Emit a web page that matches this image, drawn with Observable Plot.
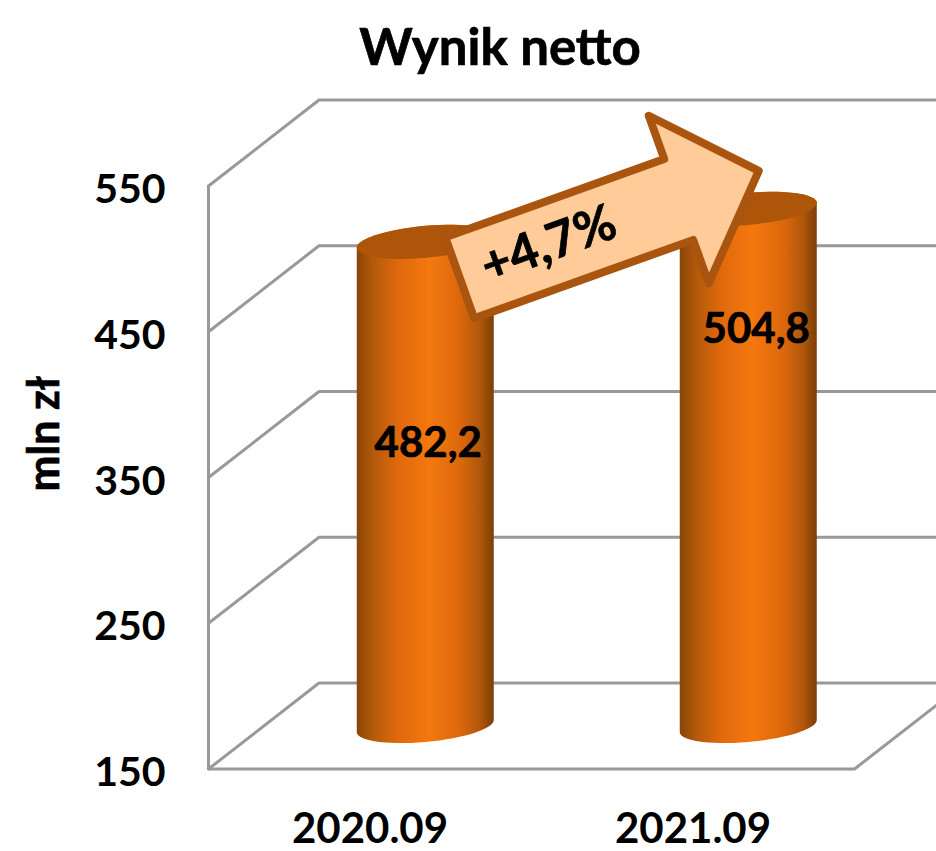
<!DOCTYPE html>
<html lang="pl">
<head>
<meta charset="utf-8">
<script src="https://cdn.jsdelivr.net/npm/d3@7"></script>
<script src="https://cdn.jsdelivr.net/npm/@observablehq/plot@0.6"></script>
<style>
  html, body { margin: 0; padding: 0; background: #fff; overflow: hidden; }
  #wrap { position: relative; width: 936px; height: 851px; }
  #title { position: absolute; left: 200px; width: 600px; top: 16px; text-align: center;
           font: bold 51px Lato, sans-serif; color: #000; line-height: 60px;
           -webkit-text-stroke: 0.7px #000; }
</style>
</head>
<body>
<div id="wrap"><div id="title">Wynik netto</div><div id="chart"></div></div>
<script>
const titleText = "Wynik netto";
const unitLabel = "mln zł";
const categories = ["2020.09", "2021.09"];
const values = [482.2, 504.8];
const valueLabels = ["482,2", "504,8"];
const yTicks = [150, 250, 350, 450, 550];
const changeLabel = "+4,7%";
document.getElementById("title").textContent = titleText;

const W = 936, H = 851, mL = 208, mR = 82, mT = 185.5, mB = 82.5;
const pxSlot = (W - mL - mR) / 2, pxVal = (H - mT - mB) / 400;
const depthX = 110.5 / pxSlot, depthY = 86 / pxVal;   // oblique projection of the back wall
const P = (slot, v, d = 0) => ({x: slot + d * depthX, y: v + d * depthY});
const off = (p, dx, dy) => ({x: p.x + dx / pxSlot, y: p.y - dy / pxVal});

const grey = "#999999", gw = 3;
const wallLines = yTicks.map(v => [P(-0.5, v, 0), P(-0.5, v, 1), P(2.2, v, 1)]);
const frame = [P(-0.5, 550, 0), P(-0.5, 150, 0), P(1.5, 150, 0), P(1.5, 150, 1)];

// cylinder geometry (tilted ellipse)
const rx = 68.5, tilt = 6, ry = 16;
const ang = d3.range(0, 61).map(i => i / 60 * Math.PI * 2);
const ell = (c, t) => off(c, rx * Math.cos(t), -tilt * Math.cos(t) + ry * Math.sin(t));
const tops = values.map((v, i) => P(i, v, 0.5));
const bottoms = values.map((v, i) => P(i, 150, 0.5));
const lowerArc = ang.filter(t => t <= Math.PI + 1e-6);
const upperArc = ang.filter(t => t >= Math.PI - 1e-6);
const bodies = values.map((v, i) => [
  ...lowerArc.map(t => ell(bottoms[i], t)),
  ...upperArc.map(t => ell(tops[i], t))
]);
const caps = values.map((v, i) => ang.map(t => ell(tops[i], t)));

// arrow anchored on the two bar tops
const tail = off(tops[0], 34.5, 36), tip = off(tops[1], 10.5, -38);
const toPx = p => [p.x * pxSlot, -p.y * pxVal];
const [tx, ty] = toPx(tail), [px, py] = toPx(tip);
const len = Math.hypot(px - tx, py - ty), ux = (px - tx) / len, uy = (py - ty) / len;
const shaft = len - 85, hs = 43, hh = 89;
const A = (a, n) => off(tail, a * ux - n * uy, a * uy + n * ux);
const arrow = [A(0, -hs), A(shaft, -hs), A(shaft, -hh), A(len, 0), A(shaft, hh), A(shaft, hs), A(0, hs), A(0, -hs)];
const arrowLabel = off(tail, 89, -33);

const defs = () => {
  const ns = "http://www.w3.org/2000/svg";
  const d = document.createElementNS(ns, "defs");
  const g = document.createElementNS(ns, "linearGradient");
  g.setAttribute("id", "cyl");
  [[0, "#8a4506"], [0.12, "#b25a0a"], [0.3, "#e0690c"], [0.53, "#f5780f"], [0.75, "#dd680c"], [0.9, "#b0570a"], [1, "#7c3e07"]]
    .forEach(([o, c]) => {
      const s = document.createElementNS(ns, "stop");
      s.setAttribute("offset", o); s.setAttribute("stop-color", c); g.appendChild(s);
    });
  d.appendChild(g);
  return d;
};

const heavy = {fontWeight: "bold", fill: "#000", stroke: "#000", strokeWidth: 0.7};
const txt = {...heavy, fontFamily: "Lato"};
const plot = Plot.plot({
  width: W, height: H, marginLeft: mL, marginRight: mR, marginTop: mT, marginBottom: mB,
  style: {fontFamily: "Lato", background: "white"},
  x: {domain: [-0.5, 1.5], axis: null},
  y: {domain: [150, 550], axis: null},
  marks: [
    defs,
    ...wallLines.map(l => Plot.line(l, {x: "x", y: "y", stroke: grey, strokeWidth: gw, strokeLinejoin: "miter"})),
    Plot.line(frame, {x: "x", y: "y", stroke: grey, strokeWidth: gw, strokeLinejoin: "miter"}),
    ...bodies.map(b => Plot.line(b, {x: "x", y: "y", fill: "url(#cyl)", stroke: "none"})),
    ...caps.map(c => Plot.line(c, {x: "x", y: "y", fill: "#ad5508", stroke: "none"})),
    Plot.axisY({ticks: yTicks, tickSize: 0, tickPadding: 43, dy: 4, fontSize: 41, label: null, tickFormat: d => String(d), ...heavy}),
    Plot.axisX({ticks: [0, 1], tickSize: 0, tickPadding: 44, fontSize: 42, label: null, tickFormat: i => categories[i], ...heavy}),
    Plot.text([unitLabel], {frameAnchor: "left", dx: -163, dy: 14, rotate: -90, fontSize: 43, ...txt}),
    Plot.text([valueLabels[0]], {x: [tops[0].x], y: [tops[0].y], dx: 3, dy: 202, fontSize: 42, ...txt}),
    Plot.text([valueLabels[1]], {x: [tops[1].x], y: [tops[1].y], dx: 8, dy: 121, fontSize: 42, ...txt}),
    Plot.line(arrow, {x: "x", y: "y", fill: "#ffcc99", stroke: "#a9540f", strokeWidth: 8, strokeLinejoin: "round"}),
    Plot.text([changeLabel], {x: [arrowLabel.x], y: [arrowLabel.y], rotate: -20, fontSize: 50, ...txt})
  ]
});
document.getElementById("chart").appendChild(plot);
</script>
</body>
</html>
